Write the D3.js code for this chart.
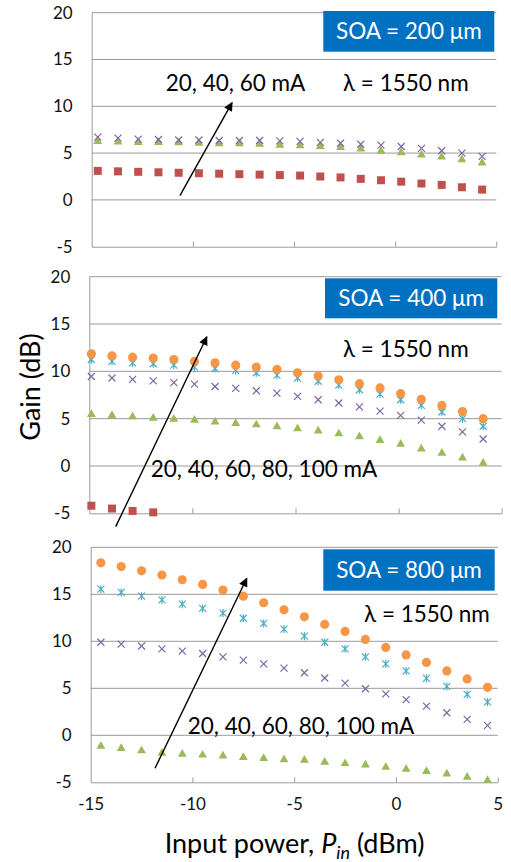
<!DOCTYPE html>
<html>
<head>
<meta charset="utf-8">
<script src="https://cdn.jsdelivr.net/npm/d3@7"></script>
<style>
  html, body { margin: 0; padding: 0; background: #fff; }
  svg { display: block; font-family: Lato, "Open Sans", sans-serif; }
</style>
</head>
<body>
<svg id="chart" width="511" height="862"></svg>
<script>
// Axis ticks shared by the three panels
const xTicks = [-15, -10, -5, 0, 5];
const yTicks = [-5, 0, 5, 10, 15, 20];
const xTickLabels = ["-15", "-10", "-5", "0", "5"];
const yTickLabels = ["-5", "0", "5", "10", "15", "20"];

// Bias currents
const currents = ["20 mA", "40 mA", "60 mA", "80 mA", "100 mA"];

// SOA = 200 µm
const pin200 = [-14.7, -13.7, -12.7, -11.7, -10.7, -9.7, -8.7, -7.7, -6.7, -5.7,
                -4.7, -3.7, -2.7, -1.7, -0.7, 0.3, 1.3, 2.3, 3.3, 4.3];
const gain200_20 = [3.1, 3.05, 3.0, 2.95, 2.9, 2.85, 2.8, 2.75, 2.7, 2.65,
                    2.6, 2.5, 2.4, 2.25, 2.1, 1.95, 1.75, 1.6, 1.35, 1.1];
const gain200_40 = [6.25, 6.2, 6.15, 6.15, 6.1, 6.05, 6.0, 6.0, 5.95, 5.85,
                    5.8, 5.7, 5.6, 5.45, 5.2, 5.05, 4.8, 4.6, 4.3, 3.95];
const gain200_60 = [6.7, 6.6, 6.5, 6.45, 6.4, 6.4, 6.35, 6.35, 6.35, 6.3,
                    6.25, 6.15, 6.05, 5.95, 5.85, 5.7, 5.5, 5.25, 5.0, 4.65];

// SOA = 400 µm
const pin400 = [-14.9, -13.9, -12.9, -11.9, -10.9, -9.9, -8.9, -7.9, -6.9, -5.9,
                -4.9, -3.9, -2.9, -1.9, -0.9, 0.1, 1.1, 2.1, 3.1, 4.1];
const gain400_20 = [-4.2, -4.5, -4.75, -4.9];
const gain400_40 = [5.45, 5.35, 5.2, 5.05, 4.95, 4.85, 4.65, 4.5, 4.35, 4.15,
                    3.95, 3.7, 3.4, 3.1, 2.7, 2.3, 1.8, 1.35, 0.85, 0.3];
const gain400_60 = [9.45, 9.3, 9.15, 9.0, 8.8, 8.65, 8.4, 8.2, 7.95, 7.7,
                    7.35, 7.0, 6.65, 6.25, 5.8, 5.35, 4.85, 4.2, 3.6, 2.85];
const gain400_80 = [11.25, 11.05, 10.9, 10.8, 10.65, 10.45, 10.3, 10.1, 9.85, 9.6,
                    9.3, 8.95, 8.55, 8.05, 7.6, 7.0, 6.4, 5.7, 5.0, 4.2];
const gain400_100 = [11.85, 11.65, 11.5, 11.4, 11.25, 11.05, 10.9, 10.65, 10.45, 10.2,
                     9.85, 9.5, 9.1, 8.7, 8.25, 7.65, 7.05, 6.4, 5.75, 5.0];

// SOA = 800 µm
const pin800 = [-14.5, -13.5, -12.5, -11.5, -10.5, -9.5, -8.5, -7.5, -6.5, -5.5,
                -4.5, -3.5, -2.5, -1.5, -0.5, 0.5, 1.5, 2.5, 3.5, 4.5];
const gain800_40 = [-1.15, -1.4, -1.65, -1.9, -2.0, -2.1, -2.2, -2.35, -2.45, -2.6,
                    -2.65, -2.85, -3.0, -3.15, -3.4, -3.6, -3.85, -4.1, -4.45, -4.8];
const gain800_60 = [9.9, 9.7, 9.5, 9.2, 8.95, 8.7, 8.35, 8.0, 7.6, 7.15,
                    6.65, 6.1, 5.55, 4.95, 4.4, 3.8, 3.1, 2.4, 1.7, 1.05];
const gain800_80 = [15.55, 15.2, 14.8, 14.4, 13.95, 13.5, 13.0, 12.45, 11.9, 11.3,
                    10.55, 9.9, 9.2, 8.35, 7.6, 6.85, 6.05, 5.2, 4.35, 3.55];
const gain800_100 = [18.35, 17.95, 17.5, 17.05, 16.55, 16.05, 15.45, 14.8, 14.1, 13.35,
                     12.6, 11.8, 11.05, 10.2, 9.35, 8.55, 7.75, 6.85, 6.0, 5.1];

// Panel titles and annotation text
const panelTitles = ["SOA = 200 \u03BCm", "SOA = 400 \u03BCm", "SOA = 800 \u03BCm"];
const currentLabels = ["20, 40, 60 mA", "20, 40, 60, 80, 100 mA", "20, 40, 60, 80, 100 mA"];
const wavelengthLabel = "\u03BB = 1550 nm";

// Marker look for each bias current
const markerStyle = {
  "20 mA":  { shape: "square",   color: "#C0504D" },
  "40 mA":  { shape: "triangle", color: "#9BBB59" },
  "60 mA":  { shape: "x",        color: "#8064A2" },
  "80 mA":  { shape: "star",     color: "#4BACC6" },
  "100 mA": { shape: "circle",   color: "#F79646" }
};

// Panel layout (pixel frame of each plot area) plus annotation anchors in data units
const panels = [
  { frame: { left: 91.7, right: 496.3, top: 12.7, bottom: 246.7 },
    pin: pin200,
    series: [["20 mA", gain200_20], ["40 mA", gain200_40], ["60 mA", gain200_60]],
    arrow: [[-10.64, 0.45], [-8.06, 10.4]],
    currentAt: [-11.34, 11.63], lambdaAt: [-2.58, 11.63],
    box: { right: 2, top: -1.7, w: 171, h: 40.7 }, showX: false },
  { frame: { left: 89.3, right: 501.7, top: 276.7, bottom: 513.3 },
    pin: pin400,
    series: [["20 mA", gain400_20], ["40 mA", gain400_40], ["60 mA", gain400_60],
             ["80 mA", gain400_80], ["100 mA", gain400_100]],
    arrow: [[-13.72, -6.41], [-9.3, 13.65]],
    currentAt: [-12.02, -1.13], lambdaAt: [-2.7, 11.48],
    box: { right: 4.4, top: 1.6, w: 172.3, h: 40 }, showX: false },
  { frame: { left: 90.7, right: 497.7, top: 547.3, bottom: 782.3 },
    pin: pin800,
    series: [["40 mA", gain800_40], ["60 mA", gain800_60],
             ["80 mA", gain800_80], ["100 mA", gain800_100]],
    arrow: [[-11.84, -3.51], [-7.33, 16.7]],
    currentAt: [-10.23, 0.11], lambdaAt: [-1.57, 12.09],
    box: { right: 3, top: 2, w: 171.4, h: 41.4 }, showX: true }
];

const svg = d3.select("#chart");
const gridColor = "#9A9A9A";
const tickFont = 17, noteFont = 22.5, titleFont = 27;

// Arrowhead used by the current-direction arrows
svg.append("defs").append("marker")
  .attr("id", "arrowhead")
  .attr("viewBox", "0 0 10 10")
  .attr("refX", 9).attr("refY", 5)
  .attr("markerWidth", 11).attr("markerHeight", 9)
  .attr("markerUnits", "userSpaceOnUse")
  .attr("orient", "auto")
  .append("path")
  .attr("d", "M0,0 L10,5 L0,10 Z")
  .attr("fill", "#000");

function markerPath(shape) {
  switch (shape) {
    case "square":   return d3.symbol(d3.symbolSquare, 64)();
    case "triangle": return d3.symbol(d3.symbolTriangle, 34)();
    case "circle":   return d3.symbol(d3.symbolCircle, 66)();
    case "x":        return "M-3.5,-3.5L3.5,3.5M-3.5,3.5L3.5,-3.5";
    case "star":     return "M-3.5,-3.5L3.5,3.5M-3.5,3.5L3.5,-3.5M0,-4L0,4";
  }
}

panels.forEach((p, i) => {
  const f = p.frame;
  const x = d3.scaleLinear().domain([xTicks[0], xTicks[xTicks.length - 1]]).range([f.left, f.right]);
  const y = d3.scaleLinear().domain([yTicks[0], yTicks[yTicks.length - 1]]).range([f.bottom, f.top]);
  const g = svg.append("g");

  // Horizontal gridlines
  g.append("g").selectAll("line")
    .data(yTicks.slice(1))
    .join("line")
    .attr("x1", f.left).attr("x2", f.right)
    .attr("y1", d => y(d)).attr("y2", d => y(d))
    .attr("stroke", gridColor).attr("stroke-width", 1);

  // Y axis: line plus labels
  const yAxis = g.append("g")
    .attr("transform", `translate(${f.left},0)`)
    .call(d3.axisLeft(y).tickValues(yTicks).tickSize(0).tickPadding(19)
      .tickFormat((d, k) => yTickLabels[k]));
  yAxis.select(".domain").attr("stroke", gridColor);
  yAxis.selectAll("text").attr("font-size", tickFont).attr("fill", "#111")
    .attr("font-family", "Lato, sans-serif");

  // X axis along the -5 dB line, ticks pointing into the plot
  const xAxis = g.append("g")
    .attr("transform", `translate(0,${f.bottom})`)
    .call(d3.axisBottom(x).tickValues(xTicks).tickSizeInner(-5).tickSizeOuter(0)
      .tickPadding(16).tickFormat((d, k) => p.showX ? xTickLabels[k] : ""));
  xAxis.select(".domain").attr("stroke", gridColor);
  xAxis.selectAll(".tick line").attr("stroke", gridColor)
    .attr("display", d => d === xTicks[0] ? "none" : null);
  xAxis.selectAll("text").attr("font-size", tickFont).attr("fill", "#111")
    .attr("font-family", "Lato, sans-serif");

  // Measured points
  p.series.forEach(([cur, vals]) => {
    const st = markerStyle[cur];
    const stroked = st.shape === "x" || st.shape === "star";
    g.append("g").selectAll("path")
      .data(vals.map((v, k) => [p.pin[k], v]))
      .join("path")
      .attr("transform", d => `translate(${x(d[0])},${y(d[1])})`)
      .attr("d", markerPath(st.shape))
      .attr("fill", stroked ? "none" : st.color)
      .attr("stroke", stroked ? st.color : "none")
      .attr("stroke-width", stroked ? 1.2 : 0);
  });

  // Arrow showing increasing bias current
  g.append("line")
    .attr("x1", x(p.arrow[0][0])).attr("y1", y(p.arrow[0][1]))
    .attr("x2", x(p.arrow[1][0])).attr("y2", y(p.arrow[1][1]))
    .attr("stroke", "#000").attr("stroke-width", 1.4)
    .attr("marker-end", "url(#arrowhead)");

  g.append("text")
    .attr("x", x(p.currentAt[0])).attr("y", y(p.currentAt[1]))
    .attr("font-size", noteFont).attr("fill", "#000")
    .text(currentLabels[i]);

  g.append("text")
    .attr("x", x(p.lambdaAt[0])).attr("y", y(p.lambdaAt[1]))
    .attr("font-size", noteFont).attr("fill", "#000")
    .text(wavelengthLabel);

  // Title box
  const b = p.box;
  const bx = f.right - b.right - b.w, by = f.top + b.top;
  g.append("rect")
    .attr("x", bx).attr("y", by).attr("width", b.w).attr("height", b.h)
    .attr("fill", "#0070C0");
  g.append("text")
    .attr("x", bx + b.w / 2).attr("y", by + b.h / 2)
    .attr("dy", "0.36em")
    .attr("text-anchor", "middle")
    .attr("font-size", noteFont).attr("fill", "#fff")
    .text(panelTitles[i]);
});

// Axis titles
svg.append("text")
  .attr("transform", "translate(40,387) rotate(-90)")
  .attr("text-anchor", "middle")
  .attr("font-size", titleFont).attr("fill", "#000")
  .text("Gain (dB)");

const xt = svg.append("text")
  .attr("x", 294.5).attr("y", 853)
  .attr("text-anchor", "middle")
  .attr("font-size", titleFont).attr("fill", "#000");
xt.append("tspan").text("Input power, ");
xt.append("tspan").attr("font-style", "italic").text("P");
xt.append("tspan").attr("font-style", "italic").attr("font-size", 18).attr("dy", 6).text("in");
xt.append("tspan").attr("dy", -6).text(" (dBm)");
</script>
</body>
</html>
